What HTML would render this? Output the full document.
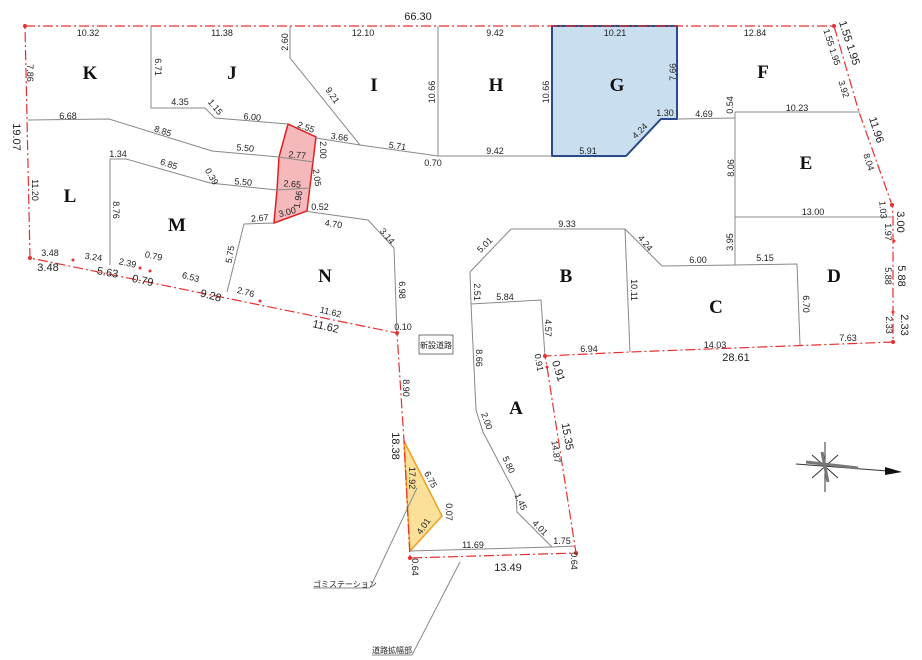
<!DOCTYPE html>
<html><head><meta charset="utf-8"><style>
html,body{margin:0;padding:0;background:#fff;}
svg{display:block}
text{font-family:"Liberation Sans","Noto Sans CJK JP",sans-serif;fill:#222;}
.s{font-size:9px;}
.l{font-size:11px;}
.b{font-family:"Liberation Serif",serif;font-weight:bold;font-size:19px;fill:#111;}
</style></head><body>
<svg width="922" height="660" viewBox="0 0 922 660" xmlns="http://www.w3.org/2000/svg">
<g fill="#f5b8bb" stroke="#e02020" stroke-width="1.5">
<polygon points="288,124 316,137 307,211 274,223 277,190 279,157"/>
</g>
<polygon points="552,26 677,26 677,119 661,119 626,156 552,156" fill="#c9dff0" stroke="#2a4a8a" stroke-width="2"/>
<polygon points="404,441 442,516 410,551" fill="#fbe09a" stroke="#f0a020" stroke-width="1.5"/>
<g fill="none" stroke="#888" stroke-width="1">
<polyline points="151,26 151,108 205,108 215,118 288,124"/>
<polyline points="290,26 290,58 360,145 438,156 552,156"/>
<polyline points="316,138 360,145"/>
<polyline points="438,26 438,156"/>
<polyline points="677,119 735,118"/>
<polyline points="735,112 860,112"/>
<polyline points="735,112 735,265"/>
<polyline points="735,217 892,217"/>
<polyline points="662,266 735,265 797,264 800,345"/>
<polyline points="470,272 511,229 625,229 662,266"/>
<polyline points="625,229 630,352"/>
<polyline points="470,272 471,304 541,300 545,356"/>
<polyline points="471,304 476,410 483,432 516,495 517,512 552,547"/>
<polyline points="410,551 552,547 575,546"/>
<polyline points="28,120 109,119 212,151 279,157"/>
<polyline points="279,157 313,162"/>
<polyline points="277,190 310,188"/>
<polyline points="110,265 110,159 126,159 210,183 277,190"/>
<polyline points="274,223 244,224 227,292"/>
<polyline points="307,211 311,212 368,220 394,248 397,333"/>
<polyline points="370,588 313,588"/>
<polyline points="370,588 417,488"/>
<polyline points="412,655 372,655"/>
<polyline points="412,655 460,562"/>
</g>
<g fill="none" stroke="#e83030" stroke-width="1.2" stroke-dasharray="10,3,2,3">
<polyline points="25,26 834,26 859,112 892,205 893,217 893,342 630,352 545,356 547,367 576,553 410,558 404,441 397,333 30,258 25,26"/>
</g>
<g fill="#e83030">
<circle cx="25" cy="26" r="2"/><circle cx="834" cy="26" r="2"/><circle cx="892" cy="205" r="2"/><circle cx="893" cy="342" r="2"/><circle cx="545" cy="356" r="2"/><circle cx="576" cy="553" r="2"/><circle cx="410" cy="558" r="2"/><circle cx="397" cy="333" r="2"/><circle cx="30" cy="258" r="2"/><circle cx="73" cy="260" r="1.5"/><circle cx="140" cy="268" r="1.5"/><circle cx="150" cy="271" r="1.5"/><circle cx="260" cy="301" r="1.5"/><circle cx="893" cy="312" r="1.5"/><circle cx="894" cy="241" r="1.5"/><circle cx="547" cy="367" r="1.5"/>
</g>
<rect x="419" y="335" width="34" height="19" fill="#fff" stroke="#555" stroke-width="0.8"/>
<text x="436" y="348" class="s" text-anchor="middle" style="font-size:8px">新設道路</text>
<text x="313" y="587" class="s" style="font-size:8px">ゴミステーション</text>
<text x="372" y="653" class="s" style="font-size:8px">道路拡幅部</text>
<!-- compass -->
<g stroke="#333" stroke-width="1">
<line x1="825" y1="442" x2="825" y2="492"/>
<line x1="796" y1="464" x2="888" y2="471"/>
<line x1="812" y1="455" x2="838" y2="478"/><line x1="838" y1="455" x2="812" y2="478"/>
<line x1="806" y1="462" x2="858" y2="468" stroke-width="3" stroke="#777"/>
<line x1="822" y1="452" x2="828" y2="482" stroke-width="3" stroke="#777"/>
</g>
<polygon points="885,467 902,472 885,475" fill="#111"/>
<g text-anchor="middle">
<text x="418" y="20" class="l">66.30</text>
<text x="88" y="36" class="s">10.32</text><text x="222" y="36" class="s">11.38</text><text x="363" y="36" class="s">12.10</text><text x="495" y="36" class="s">9.42</text><text x="615" y="36" class="s">10.21</text><text x="755" y="36" class="s">12.84</text>
<text class="s" transform="translate(288,42) rotate(-90)">2.60</text>
<text class="s" transform="translate(155,67) rotate(90)">6.71</text>
<text class="s" transform="translate(27,73) rotate(90)">7.86</text>
<text class="l" transform="translate(13,137) rotate(90)">19.07</text>
<text class="s" transform="translate(32,190) rotate(90)">11.20</text>
<text class="s" transform="translate(113,210) rotate(90)">8.76</text>
<text class="s" transform="translate(435,92) rotate(-90)">10.66</text>
<text class="s" transform="translate(549,92) rotate(-90)">10.66</text>
<text class="s" transform="translate(676,72) rotate(-90)">7.66</text>
<text class="s" transform="translate(330,97) rotate(55)">9.21</text>
<text x="180" y="105" class="s">4.35</text>
<text class="s" transform="translate(213,109) rotate(50)">1.15</text>
<text class="s" transform="translate(252,120) rotate(5)">6.00</text>
<text x="68" y="119" class="s">6.68</text>
<text class="s" transform="translate(162,134) rotate(18)">8.85</text>
<text class="s" transform="translate(245,151) rotate(5)">5.50</text>
<text class="s" transform="translate(305,130) rotate(20)">2.55</text>
<text class="s" transform="translate(339,140) rotate(8)">3.66</text>
<text class="s" transform="translate(397,149) rotate(8)">5.71</text>
<text x="433" y="166" class="s">0.70</text><text x="495" y="154" class="s">9.42</text><text x="588" y="154" class="s">5.91</text>
<text class="s" transform="translate(642,133) rotate(-45)">4.24</text>
<text x="665" y="116" class="s">1.30</text><text x="704" y="117" class="s">4.69</text>
<text class="s" transform="translate(733,105) rotate(-90)">0.54</text>
<text x="797" y="111" class="s">10.23</text>
<text class="s" transform="translate(297,158) rotate(5)">2.77</text>
<text class="s" transform="translate(320,150) rotate(90)">2.00</text>
<text x="118" y="157" class="s">1.34</text>
<text class="s" transform="translate(168,167) rotate(18)">6.85</text>
<text class="s" transform="translate(209,178) rotate(60)">0.39</text>
<text class="s" transform="translate(243,185) rotate(5)">5.50</text>
<text class="s" transform="translate(292,187) rotate(5)">2.65</text>
<text class="s" transform="translate(314,178) rotate(82)">2.05</text>
<text class="s" transform="translate(301,200) rotate(-80)">1.96</text>
<text class="s" transform="translate(288,215) rotate(-15)">3.00</text>
<text x="320" y="210" class="s">0.52</text>
<text class="s" transform="translate(260,221) rotate(-5)">2.67</text>
<text class="s" transform="translate(333,227) rotate(8)">4.70</text>
<text class="s" transform="translate(385,238) rotate(50)">3.14</text>
<text class="s" transform="translate(233,255) rotate(-80)">5.75</text>
<text class="s" transform="translate(399,290) rotate(90)">6.98</text>
<text x="50" y="256" class="s">3.48</text><text x="48" y="271" class="l">3.48</text>
<text class="s" transform="translate(93,260) rotate(8)">3.24</text>
<text class="l" transform="translate(107,276) rotate(10)">5.63</text>
<text class="s" transform="translate(127,266) rotate(12)">2.39</text>
<text class="s" transform="translate(153,259) rotate(12)">0.79</text>
<text class="l" transform="translate(142,284) rotate(12)">0.79</text>
<text class="s" transform="translate(190,280) rotate(15)">6.53</text>
<text class="l" transform="translate(210,299) rotate(15)">9.28</text>
<text class="s" transform="translate(245,295) rotate(15)">2.76</text>
<text class="s" transform="translate(330,315) rotate(13)">11.62</text>
<text class="l" transform="translate(325,330) rotate(13)">11.62</text>
<text x="403" y="330" class="s">0.10</text>
<text class="s" transform="translate(487,247) rotate(-45)">5.01</text>
<text x="567" y="227" class="s">9.33</text>
<text class="s" transform="translate(643,245) rotate(50)">4.24</text>
<text x="698" y="263" class="s">6.00</text><text x="765" y="261" class="s">5.15</text>
<text class="s" transform="translate(733,242) rotate(-90)">3.95</text>
<text class="s" transform="translate(734,168) rotate(-90)">8.06</text>
<text x="813" y="215" class="s">13.00</text>
<text class="s" transform="translate(631,290) rotate(90)">10.11</text>
<text class="s" transform="translate(803,304) rotate(90)">6.70</text>
<text class="s" transform="translate(474,292) rotate(90)">2.51</text>
<text x="505" y="300" class="s">5.84</text>
<text class="s" transform="translate(545,328) rotate(90)">4.57</text>
<text class="s" transform="translate(536,363) rotate(80)">0.91</text>
<text class="l" transform="translate(555,372) rotate(72)">0.91</text>
<text x="589" y="352" class="s">6.94</text><text x="715" y="348" class="s">14.03</text><text x="736" y="361" class="l">28.61</text><text x="848" y="341" class="s">7.63</text>
<text class="s" transform="translate(829,48) rotate(72)">1.55 1.95</text>
<text class="l" transform="translate(846,44) rotate(72)">1.55 1.95</text>
<text class="s" transform="translate(841,90) rotate(72)">3.92</text>
<text class="l" transform="translate(873,131) rotate(72)">11.96</text>
<text class="s" transform="translate(866,163) rotate(72)">8.04</text>
<text class="s" transform="translate(880,210) rotate(85)">1.03</text>
<text class="l" transform="translate(897,222) rotate(90)">3.00</text>
<text class="s" transform="translate(885,232) rotate(90)">1.97</text>
<text class="l" transform="translate(898,276) rotate(90)">5.88</text>
<text class="s" transform="translate(885,276) rotate(90)">5.88</text>
<text class="l" transform="translate(901,325) rotate(90)">2.33</text>
<text class="s" transform="translate(886,325) rotate(90)">2.33</text>
<text class="s" transform="translate(476,358) rotate(90)">8.66</text>
<text class="s" transform="translate(484,422) rotate(70)">2.00</text>
<text class="s" transform="translate(506,466) rotate(65)">5.80</text>
<text class="s" transform="translate(518,503) rotate(65)">1.45</text>
<text class="s" transform="translate(538,530) rotate(45)">4.01</text>
<text x="562" y="544" class="s">1.75</text>
<text class="s" transform="translate(571,561) rotate(90)">0.64</text>
<text class="s" transform="translate(553,452) rotate(82)">14.87</text>
<text class="l" transform="translate(564,437) rotate(80)">15.35</text>
<text class="s" transform="translate(403,388) rotate(90)">8.90</text>
<text class="l" transform="translate(392,446) rotate(90)">18.38</text>
<text class="s" transform="translate(409,478) rotate(90)">17.92</text>
<text class="s" transform="translate(428,481) rotate(62)">6.75</text>
<text class="s" transform="translate(446,512) rotate(90)">0.07</text>
<text class="s" transform="translate(426,528) rotate(-55)">4.01</text>
<text x="473" y="548" class="s">11.69</text>
<text x="508" y="571" class="l">13.49</text>
<text class="s" transform="translate(412,567) rotate(90)">0.64</text>
</g>
<g text-anchor="middle">
<text x="90" y="79" class="b">K</text><text x="232" y="79" class="b">J</text><text x="374" y="91" class="b">I</text><text x="496" y="91" class="b">H</text><text x="617" y="91" class="b">G</text><text x="763" y="78" class="b">F</text><text x="806" y="169" class="b">E</text><text x="70" y="202" class="b">L</text><text x="177" y="231" class="b">M</text><text x="325" y="282" class="b">N</text><text x="566" y="282" class="b">B</text><text x="716" y="313" class="b">C</text><text x="834" y="282" class="b">D</text><text x="516" y="414" class="b">A</text>
</g>
</svg>
</body></html>
